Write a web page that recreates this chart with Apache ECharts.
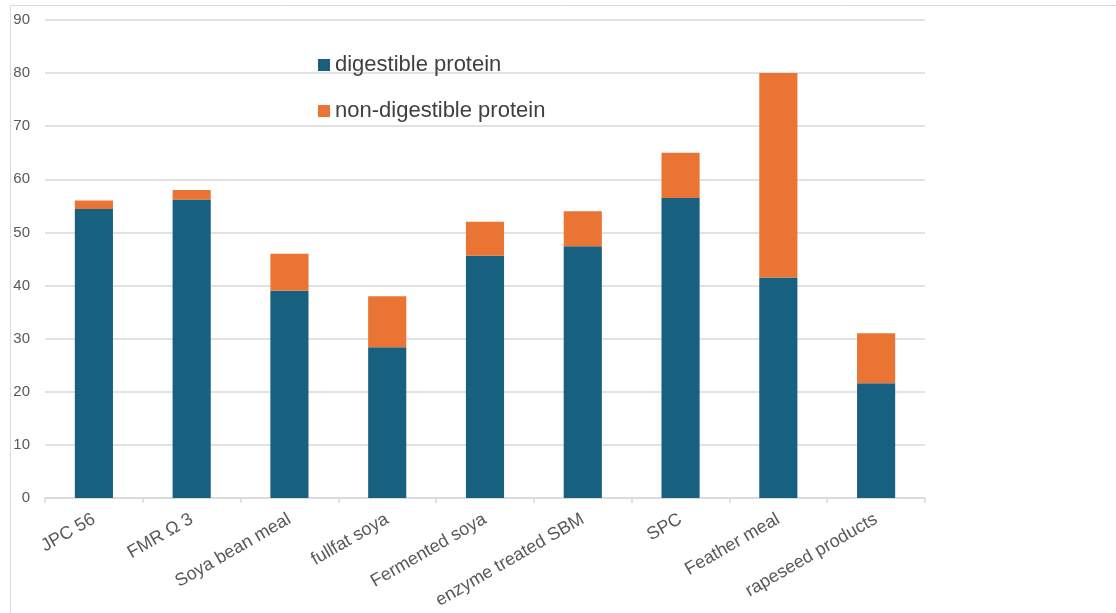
<!DOCTYPE html>
<html>
<head>
<meta charset="utf-8">
<script src="https://cdn.jsdelivr.net/npm/echarts@6/dist/echarts.min.js"></script>
<style>
html,body{margin:0;padding:0;background:#fff;}
#chart{width:1116px;height:613px;}
</style>
</head>
<body>
<div id="chart"></div>
<script>
const categories = ["JPC 56", "FMR \u03A9 3", "Soya bean meal", "fullfat soya", "Fermented soya", "enzyme treated SBM", "SPC", "Feather meal", "rapeseed products"];
const digestible = [54.4, 56.2, 39.0, 28.4, 45.6, 47.4, 56.5, 41.5, 21.6];
const nonDigestible = [1.6, 1.8, 7.0, 9.6, 6.4, 6.6, 8.5, 38.5, 9.4];
const seriesNames = ["digestible protein", "non-digestible protein"];

const chart = echarts.init(document.getElementById('chart'));
chart.setOption({
  animation: false,
  color: ['#17607f', '#ea7434'],
  graphic: [{
    type: 'rect',
    shape: {x: 10.5, y: 5.5, width: 1200, height: 700},
    style: {fill: 'none', stroke: '#d9d9d9', lineWidth: 1},
    silent: true
  }],
  legend: {
    orient: 'vertical',
    left: 313,
    top: 49,
    itemGap: 24,
    itemWidth: 12,
    itemHeight: 12,
    icon: 'rect',
    textStyle: {fontSize: 22, color: '#404040', fontFamily: 'Liberation Sans, Arial, sans-serif'},
    data: seriesNames
  },
  grid: {left: 45, right: 191, top: 20, bottom: 115, containLabel: false},
  xAxis: {
    type: 'category',
    data: categories,
    axisLine: {lineStyle: {color: '#d9d9d9', width: 1.5}},
    axisTick: {show: true, alignWithLabel: false, length: 5, lineStyle: {color: '#d9d9d9', width: 1.5}},
    axisLabel: {rotate: 30, margin: 20, fontSize: 18, color: '#595959', fontFamily: 'Liberation Sans, Arial, sans-serif', interval: 0}
  },
  yAxis: {
    type: 'value',
    min: 0, max: 90, interval: 10,
    axisLine: {show: false},
    axisTick: {show: false},
    splitLine: {lineStyle: {color: '#d9d9d9', width: 1.5}},
    axisLabel: {fontSize: 15, color: '#595959', margin: 15, fontFamily: 'Liberation Sans, Arial, sans-serif'}
  },
  series: [
    {name: seriesNames[0], type: 'bar', stack: 'p', data: digestible, barWidth: '39%'},
    {name: seriesNames[1], type: 'bar', stack: 'p', data: nonDigestible, barWidth: '39%'}
  ]
});
</script>
</body>
</html>
